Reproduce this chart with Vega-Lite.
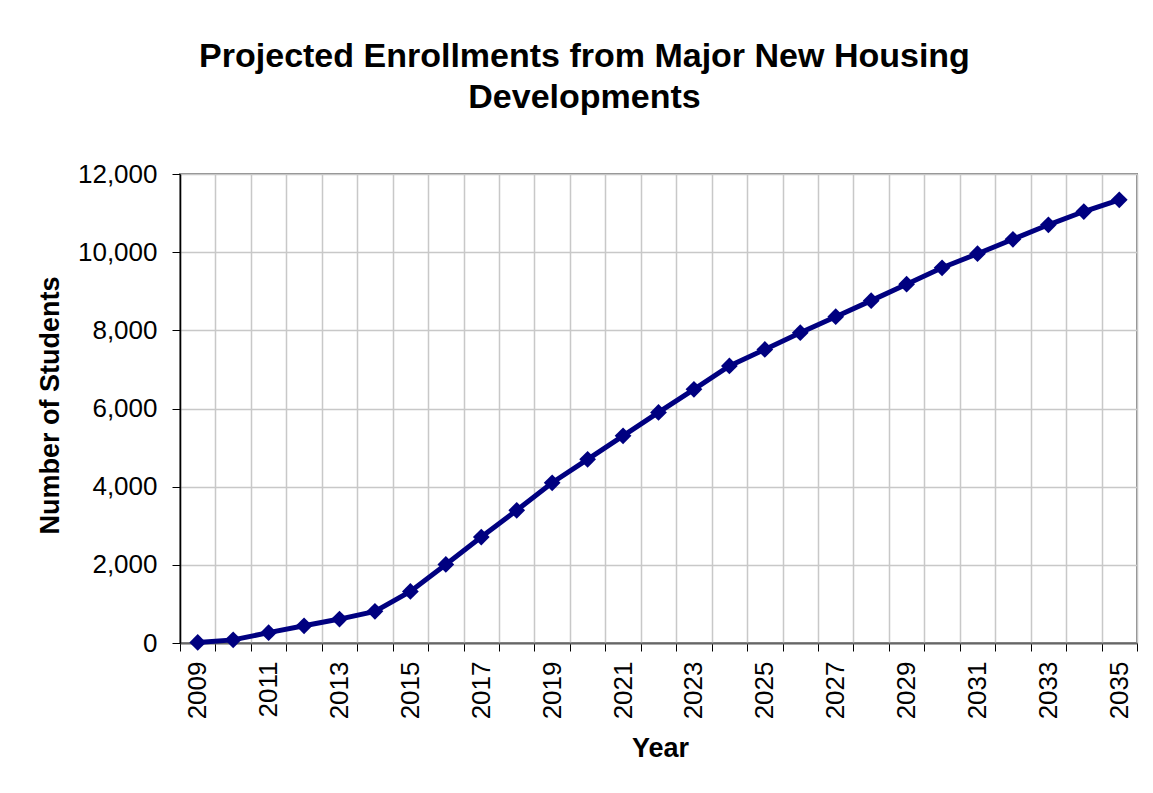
{
  "$schema": "https://vega.github.io/schema/vega-lite/v6.json",
  "width": 957,
  "height": 469,
  "autosize": "none",
  "padding": {"left": 180, "top": 174, "right": 16, "bottom": 150},
  "background": "white",
  "title": {
    "text": ["Projected Enrollments from Major New Housing", "Developments"],
    "anchor": "middle",
    "frame": "group",
    "dx": -74,
    "offset": 19,
    "baseline": "alphabetic",
    "font": "Liberation Sans",
    "fontSize": 34,
    "fontWeight": "bold",
    "color": "black",
    "lineHeight": 41
  },
  "config": {
    "view": {"stroke": "#888888", "strokeWidth": 2},
    "axis": {
      "labelFont": "Liberation Sans",
      "labelFontSize": 26,
      "labelColor": "black",
      "titleFont": "Liberation Sans",
      "titleFontSize": 27,
      "titleFontWeight": "bold",
      "titleColor": "black",
      "tickColor": "black",
      "tickSize": 8,
      "gridColor": "#c8c8c8",
      "gridWidth": 1.5
    }
  },
  "data": {
    "values": [
      {"Year": 2009, "Students": 15},
      {"Year": 2010, "Students": 80},
      {"Year": 2011, "Students": 265},
      {"Year": 2012, "Students": 440},
      {"Year": 2013, "Students": 612},
      {"Year": 2014, "Students": 810},
      {"Year": 2015, "Students": 1320},
      {"Year": 2016, "Students": 2010},
      {"Year": 2017, "Students": 2710},
      {"Year": 2018, "Students": 3395},
      {"Year": 2019, "Students": 4100},
      {"Year": 2020, "Students": 4700},
      {"Year": 2021, "Students": 5300},
      {"Year": 2022, "Students": 5900},
      {"Year": 2023, "Students": 6490},
      {"Year": 2024, "Students": 7090},
      {"Year": 2025, "Students": 7510},
      {"Year": 2026, "Students": 7940},
      {"Year": 2027, "Students": 8350},
      {"Year": 2028, "Students": 8760},
      {"Year": 2029, "Students": 9180},
      {"Year": 2030, "Students": 9600},
      {"Year": 2031, "Students": 9960},
      {"Year": 2032, "Students": 10330},
      {"Year": 2033, "Students": 10700},
      {"Year": 2034, "Students": 11040},
      {"Year": 2035, "Students": 11340}
    ]
  },
  "encoding": {
    "x": {
      "field": "Year",
      "type": "ordinal",
      "bandPosition": 0.5,
      "scale": {"type": "band", "paddingInner": 0, "paddingOuter": 0},
      "axis": {
        "title": "Year",
        "titleX": 480,
        "titleY": 105,
        "titleAlign": "center",
        "titleBaseline": "middle",
        "tickBand": "extent",
        "grid": true,
        "labelAngle": -90,
        "labelPadding": 10,
        "labelExpr": "toNumber(datum.value) % 2 === 1 ? datum.label : ''",
        "domainColor": "#666666",
        "domainWidth": 2
      }
    },
    "y": {
      "field": "Students",
      "type": "quantitative",
      "scale": {"domain": [0, 12000], "nice": false},
      "axis": {
        "title": "Number of Students",
        "titleX": -130,
        "titleY": 231,
        "titleAngle": -90,
        "titleAlign": "center",
        "titleBaseline": "middle",
        "values": [0, 2000, 4000, 6000, 8000, 10000, 12000],
        "format": ",d",
        "grid": true,
        "labelPadding": 15,
        "domainColor": "black",
        "domainWidth": 1.5
      }
    }
  },
  "layer": [
    {"mark": {"type": "line", "color": "#000080", "strokeWidth": 5}},
    {"mark": {"type": "point", "shape": "diamond", "filled": true, "color": "#000080", "size": 280, "opacity": 1}}
  ]
}
